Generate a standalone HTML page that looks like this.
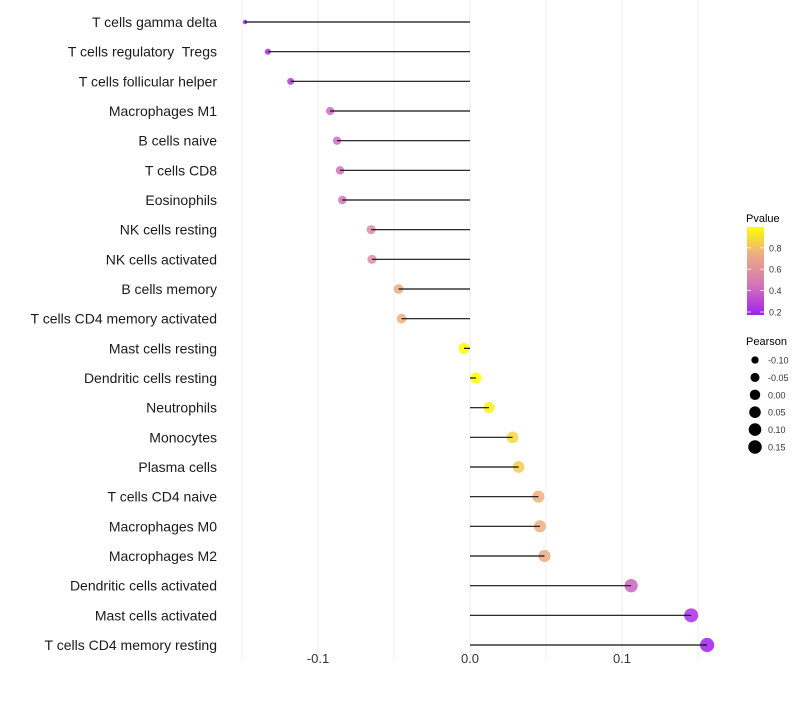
<!DOCTYPE html>
<html><head><meta charset="utf-8"><style>
body{margin:0;background:#fff;}
svg{font-family:"Liberation Sans",Arial,sans-serif;}
text{white-space:pre;}
</style></head><body>
<svg id="chart" width="800" height="700" viewBox="0 0 800 700">
<g id="grid"></g>
<g id="labels"></g>
<g id="marks"></g>
<g id="xticks"></g>
<g id="legend">
  <defs><linearGradient id="pg" x1="0" y1="1" x2="0" y2="0">
    <stop offset="0" stop-color="#A020F0"/><stop offset="0.35" stop-color="#D577B5"/><stop offset="0.7" stop-color="#EDAE80"/><stop offset="1" stop-color="#FFFF00"/>
  </linearGradient></defs>
  <text x="746" y="222" font-size="11" fill="#000">Pvalue</text>
  <rect x="747" y="227" width="17" height="88" fill="url(#pg)"/>
  <text x="746" y="345" font-size="11" fill="#000">Pearson</text>
</g>
</svg>
<script>
const categories=["T cells gamma delta","T cells regulatory  Tregs","T cells follicular helper","Macrophages M1","B cells naive","T cells CD8","Eosinophils","NK cells resting","NK cells activated","B cells memory","T cells CD4 memory activated","Mast cells resting","Dendritic cells resting","Neutrophils","Monocytes","Plasma cells","T cells CD4 naive","Macrophages M0","Macrophages M2","Dendritic cells activated","Mast cells activated","T cells CD4 memory resting"];
const pearson=[-0.148,-0.133,-0.118,-0.092,-0.0875,-0.0855,-0.084,-0.065,-0.0645,-0.047,-0.045,-0.004,0.004,0.0125,0.028,0.032,0.045,0.046,0.049,0.106,0.1455,0.156];
const pvalue=[0.15,0.2,0.25,0.4,0.42,0.43,0.44,0.55,0.56,0.7,0.72,0.98,0.98,0.93,0.85,0.82,0.72,0.72,0.7,0.38,0.2,0.15];
const xTicks=[-0.1,0,0.1];
const xTickLabels=["-0.1","0.0","0.1"];
const xMinor=[-0.15,-0.05,0.05,0.15];
const pTicks=[0.2,0.4,0.6,0.8];
const sizeBreaks=[-0.10,-0.05,0.00,0.05,0.10,0.15];
const sizeLabels=["-0.10","-0.05","0.00","0.05","0.10","0.15"];

const NS="http://www.w3.org/2000/svg";
const x=v=>470+v*1520;
const y=i=>22+i*(623/21);
const pY=p=>312-(p-0.2)*107;
const rad=v=>1.8+5.3*Math.sqrt(Math.max(0,(v+0.15)/0.306));
function hex(c){return [parseInt(c.slice(1,3),16),parseInt(c.slice(3,5),16),parseInt(c.slice(5,7),16)];}
const stops=[[0.15,"#A020F0"],[0.45,"#D577B5"],[0.72,"#EDAE80"],[0.98,"#FFFF00"]];
function col(p){
  if(p<=stops[0][0])return stops[0][1];
  for(let k=1;k<stops.length;k++){if(p<=stops[k][0]){const t=(p-stops[k-1][0])/(stops[k][0]-stops[k-1][0]);const a=hex(stops[k-1][1]),b=hex(stops[k][1]);return "rgb("+a.map((c,j)=>Math.round(c+(b[j]-c)*t)).join(",")+")";}}
  return stops[stops.length-1][1];
}
function mk(tag,attrs,parent){const e=document.createElementNS(NS,tag);for(const k in attrs)e.setAttribute(k,attrs[k]);parent.appendChild(e);return e;}
const grid=document.getElementById('grid'),labels=document.getElementById('labels'),marks=document.getElementById('marks'),xt=document.getElementById('xticks'),leg=document.getElementById('legend');
xMinor.forEach(v=>{const l=mk('line',{x1:x(v),x2:x(v),y1:0,y2:662,stroke:'#f2f2f2','stroke-width':1},grid);

});
xTicks.forEach((v,i)=>{const l=mk('line',{x1:x(v),x2:x(v),y1:0,y2:662,stroke:'#ebebeb','stroke-width':1.1},grid);


const t=mk('text',{x:x(v),y:663,'font-size':13,fill:'#333','text-anchor':'middle'},xt);t.textContent=xTickLabels[i];

});
categories.forEach((c,i)=>{
  const t=mk('text',{x:217,y:y(i)+5,'font-size':14,fill:'#1a1a1a','text-anchor':'end'},labels);t.textContent=c;
  
  
  const p=mk('circle',{cx:x(pearson[i]),cy:y(i),r:rad(pearson[i]),fill:col(pvalue[i]),'fill-opacity':0.85},marks);
  
  
  const l=mk('line',{x1:x(0),x2:x(pearson[i]),y1:y(i),y2:y(i),stroke:'#111','stroke-width':1.2},marks);
  
  
});
pTicks.forEach(p=>{const t=mk('text',{x:769,y:pY(p)+3.5,'font-size':9,fill:'#333'},leg);t.textContent=p.toFixed(1);


[747,760].forEach(xx=>{const m=mk('line',{x1:xx,x2:xx+4,y1:pY(p),y2:pY(p),stroke:'#fff','stroke-width':0.8},leg);

});});
sizeBreaks.forEach((v,i)=>{const cy=360+i*17.4;
const c=mk('circle',{cx:755,cy:cy,r:rad(v)-0.3,fill:'#000'},leg);


const t=mk('text',{x:768,y:cy+3.5,'font-size':9,fill:'#333'},leg);t.textContent=sizeLabels[i];

});
</script>
</body></html>
